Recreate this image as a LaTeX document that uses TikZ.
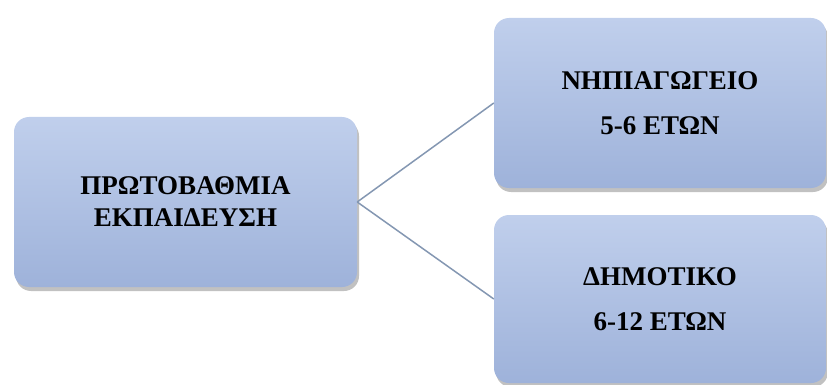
\documentclass[tikz,border=0pt]{standalone}
\usepackage{fontspec}
\setmainfont{Liberation Serif}
\usetikzlibrary{shadows}
\definecolor{boxtop}{RGB}{192,207,236}
\definecolor{boxbot}{RGB}{158,178,218}
\definecolor{linkc}{RGB}{132,151,178}
\tikzset{
  levelbox/.style={rectangle, rounded corners=15pt, top color=boxtop, bottom color=boxbot,
    draw=none, align=center, inner sep=0pt,
    drop shadow={shadow xshift=2pt, shadow yshift=-4pt, opacity=0.35, fill=black!70},
    font=\bfseries\fontsize{27}{32}\selectfont},
  link/.style={draw=linkc, line width=1.5pt}
}
\begin{document}
\begin{tikzpicture}[x=1pt, y=-1pt]
\useasboundingbox (0,0) rectangle (827,385);
\node[levelbox, minimum width=343pt, minimum height=170pt] (root) at (185.5,202)
  {ΠΡΩΤΟΒΑΘΜΙΑ\\ΕΚΠΑΙΔΕΥΣΗ};
\node[levelbox, minimum width=332pt, minimum height=170pt] (nip) at (660,103)
  {ΝΗΠΙΑΓΩΓΕΙΟ\\[13pt]5-6 ΕΤΩΝ};
\node[levelbox, minimum width=332pt, minimum height=168pt] (dim) at (660,299)
  {ΔΗΜΟΤΙΚΟ\\[13pt]6-12 ΕΤΩΝ};
\draw[link] (root.east) -- (nip.west);
\draw[link] (root.east) -- (dim.west);
\end{tikzpicture}
\end{document}
